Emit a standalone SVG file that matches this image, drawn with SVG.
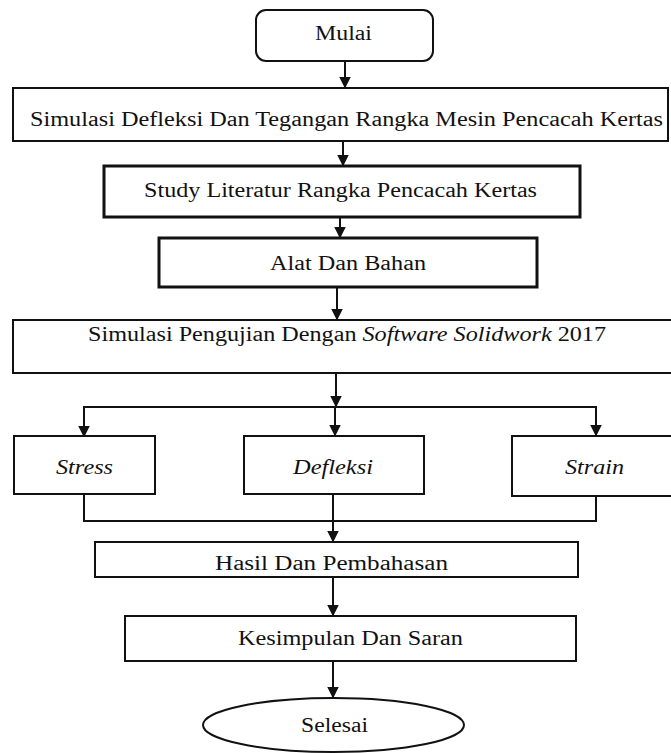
<svg xmlns="http://www.w3.org/2000/svg" width="671" height="753" viewBox="0 0 671 753">
<style>
  .box{fill:#fff;stroke:#111;stroke-width:2}
  .thick{stroke-width:3}
  .t{font-family:'Liberation Serif','Times New Roman',serif;font-size:20.5px;fill:#111;text-anchor:middle}
  .i{font-style:italic}
  .c{fill:none;stroke:#111;stroke-width:2}
</style>
<defs>
  <marker id="av" markerUnits="userSpaceOnUse" markerWidth="12" markerHeight="12" viewBox="0 0 12 12" refX="6" refY="11.5" orient="0">
    <path d="M0,0 L12,0 L6,12 Z" fill="#111"/>
  </marker>
</defs>
<rect width="671" height="753" fill="#fff"/>
<g id="connectors">
  <line class="c" x1="345" y1="61" x2="345" y2="88" marker-end="url(#av)"/>
  <line class="c" x1="343" y1="141" x2="343" y2="166" marker-end="url(#av)"/>
  <line class="c" x1="340" y1="217" x2="340" y2="238" stroke-width="3" marker-end="url(#av)"/>
  <line class="c" x1="337" y1="287" x2="337" y2="320" stroke-width="3" marker-end="url(#av)"/>
  <line class="c" x1="336" y1="373" x2="336" y2="407" stroke-width="4" marker-end="url(#av)"/>
  <polyline class="c" points="84,436 84,407 596,407 596,436"/>
  <line class="c" x1="84" y1="420" x2="84" y2="437" marker-end="url(#av)"/>
  <line class="c" x1="596" y1="420" x2="596" y2="436" marker-end="url(#av)"/>
  <line class="c" x1="335" y1="407" x2="335" y2="436" marker-end="url(#av)"/>
  <polyline class="c" points="84,494 84,521 596,521 596,496"/>
  <line class="c" x1="333" y1="494" x2="333" y2="542" marker-end="url(#av)"/>
  <line class="c" x1="333" y1="577" x2="333" y2="616" marker-end="url(#av)"/>
  <line class="c" x1="333" y1="661" x2="333" y2="698" marker-end="url(#av)"/>
</g>
<g font-family="Liberation Serif, serif">
<g id="mulai">
  <rect class="box" x="256" y="10" width="177" height="51" rx="10"/>
  <text class="t" x="343.5" y="40" textLength="57" lengthAdjust="spacingAndGlyphs">Mulai</text>
</g>
<g id="simulasi-defleksi">
  <rect class="box" x="13" y="88" width="655" height="53"/>
  <text class="t" x="346.5" y="126" textLength="633" lengthAdjust="spacingAndGlyphs">Simulasi Defleksi Dan Tegangan Rangka Mesin Pencacah Kertas</text>
</g>
<g id="study">
  <rect class="box thick" x="104" y="166" width="476" height="51"/>
  <text class="t" x="340.5" y="197" textLength="393" lengthAdjust="spacingAndGlyphs">Study Literatur Rangka Pencacah Kertas</text>
</g>
<g id="alat">
  <rect class="box thick" x="159" y="238" width="378" height="49"/>
  <text class="t" x="348" y="270" textLength="156" lengthAdjust="spacingAndGlyphs">Alat Dan Bahan</text>
</g>
<g id="simulasi-pengujian">
  <rect class="box" x="13" y="320" width="662" height="53"/>
  <text class="t" x="347" y="341" textLength="518" lengthAdjust="spacingAndGlyphs">Simulasi Pengujian Dengan <tspan class="i">Software Solidwork</tspan> 2017</text>
</g>
<g id="stress">
  <rect class="box" x="14" y="436" width="141" height="58"/>
  <text class="t i" x="84.5" y="474" textLength="57" lengthAdjust="spacingAndGlyphs">Stress</text>
</g>
<g id="defleksi">
  <rect class="box" x="244" y="436" width="180" height="58"/>
  <text class="t i" x="333" y="474" textLength="80" lengthAdjust="spacingAndGlyphs">Defleksi</text>
</g>
<g id="strain">
  <rect class="box" x="512" y="436" width="162" height="60"/>
  <text class="t i" x="594.5" y="474" textLength="59" lengthAdjust="spacingAndGlyphs">Strain</text>
</g>
<g id="hasil">
  <rect class="box" x="95" y="542" width="483" height="35"/>
  <text class="t" x="331.5" y="570" textLength="233" lengthAdjust="spacingAndGlyphs">Hasil Dan Pembahasan</text>
</g>
<g id="kesimpulan">
  <rect class="box" x="125" y="616" width="451" height="45"/>
  <text class="t" x="350.5" y="645" textLength="225" lengthAdjust="spacingAndGlyphs">Kesimpulan Dan Saran</text>
</g>
<g id="selesai">
  <ellipse class="box" cx="333.5" cy="725" rx="130.5" ry="27"/>
  <text class="t" x="334.5" y="732" textLength="67" lengthAdjust="spacingAndGlyphs">Selesai</text>
</g>
</g>
</svg>
